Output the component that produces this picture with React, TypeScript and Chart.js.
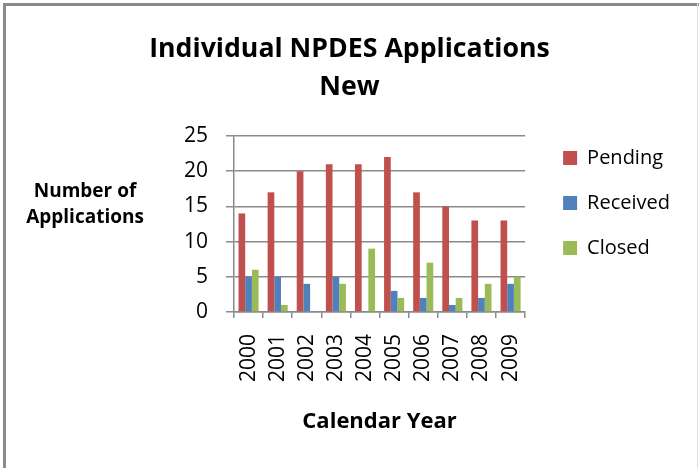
import React, { useEffect, useRef } from "react";
import { Chart, registerables } from "chart.js";

Chart.register(...registerables);

const categories = ["2000", "2001", "2002", "2003", "2004", "2005", "2006", "2007", "2008", "2009"];
const pending = [14, 17, 20, 21, 21, 22, 17, 15, 13, 13];
const received = [5, 5, 4, 5, 0, 3, 2, 1, 2, 4];
const closed = [6, 1, 0, 4, 9, 2, 7, 2, 4, 5];
const titleLines = ["Individual NPDES Applications", "New"];
const yTitleLines = ["Number of", "Applications"];
const xTitle = "Calendar Year";

const FONT = "'Open Sans', sans-serif";
const GRID = "#8a8a8a";

export default function App() {
  const ref = useRef<HTMLCanvasElement | null>(null);
  useEffect(() => {
    if (!ref.current) return;
    const framePlugin = {
      id: "frame",
      afterLayout(chart: any) {
        const lg = chart.legend;
        if (lg) {
          const dx = 13;
          const dy = -13;
          lg.left += dx;
          lg.right += dx;
          lg.top += dy;
          lg.bottom += dy;
        }
        const tb = chart.titleBlock;
        if (tb) {
          tb.left = 0;
          tb.right = chart.width;
          tb.width = chart.width;
        }
      },
      afterDraw(chart: any) {
        const ctx = chart.ctx;
        ctx.save();
        ctx.fillStyle = "#8a8a8a";
        ctx.fillRect(3, 3, 696, 3);
        ctx.fillRect(3, 3, 3, 465);
        ctx.fillStyle = "#dddddd";
        ctx.fillRect(697, 3, 1, 465);
        ctx.fillStyle = "#000";
        ctx.font = `bold 19px ${FONT}`;
        ctx.textAlign = "center";
        ctx.textBaseline = "middle";
        ctx.fillText(yTitleLines[0], 85, 192);
        ctx.fillText(yTitleLines[1], 85, 218);
        ctx.restore();
      },
    };
    const chart = new Chart(ref.current, {
      type: "bar",
      data: {
        labels: categories,
        datasets: [
          { label: "Pending", data: pending, backgroundColor: "#C0504D" },
          { label: "Received", data: received, backgroundColor: "#4F81BD" },
          { label: "Closed", data: closed, backgroundColor: "#9BBB59" },
        ],
      },
      options: {
        responsive: false,
        animation: false,
        devicePixelRatio: 1,
        layout: { padding: { left: 0, right: 32, top: 0, bottom: 0 } },
        datasets: { bar: { categoryPercentage: 0.69, barPercentage: 1, borderWidth: 0 } },
        plugins: {
          title: {
            display: true,
            text: titleLines,
            color: "#000",
            font: { family: FONT, size: 26.7, weight: "bold", lineHeight: 38 / 26.7 },
            padding: { top: 30, bottom: 30 },
          },
          legend: {
            position: "right",
            align: "start",
            fullSize: false,
            labels: {
              color: "#000",
              font: { family: FONT, size: 20 },
              boxWidth: 14,
              boxHeight: 14,
              padding: 25,
            },
          },
          tooltip: { enabled: false },
        },
        scales: {
          x: {
            afterFit: (s: any) => { s.height = 156; },
            grid: { display: true, drawOnChartArea: false, color: GRID, lineWidth: 1.5, tickLength: 6 },
            border: { color: GRID, width: 1.5 },
            ticks: { color: "#000", font: { family: FONT, size: 21 }, minRotation: 90, maxRotation: 90, padding: 16 },
            title: {
              display: true,
              text: xTitle,
              color: "#000",
              font: { family: FONT, size: 22, weight: "bold", lineHeight: 1.2 },
              padding: { top: 4, bottom: 33 },
            },
          },
          y: {
            min: 0,
            max: 25,
            afterFit: (s: any) => { s.width = 234; },
            grid: { color: GRID, lineWidth: 1.5, tickLength: 8 },
            border: { color: GRID, width: 1.5 },
            ticks: { stepSize: 5, color: "#000", font: { family: FONT, size: 21 }, padding: 18 },
          },
        },
      },
      plugins: [framePlugin],
    });
    return () => chart.destroy();
  }, []);
  return (
    <div style={{ position: "absolute", left: 0, top: 0, width: 699, height: 468, background: "#fff" }}>
      <canvas ref={ref} width={699} height={468} />
    </div>
  );
}
